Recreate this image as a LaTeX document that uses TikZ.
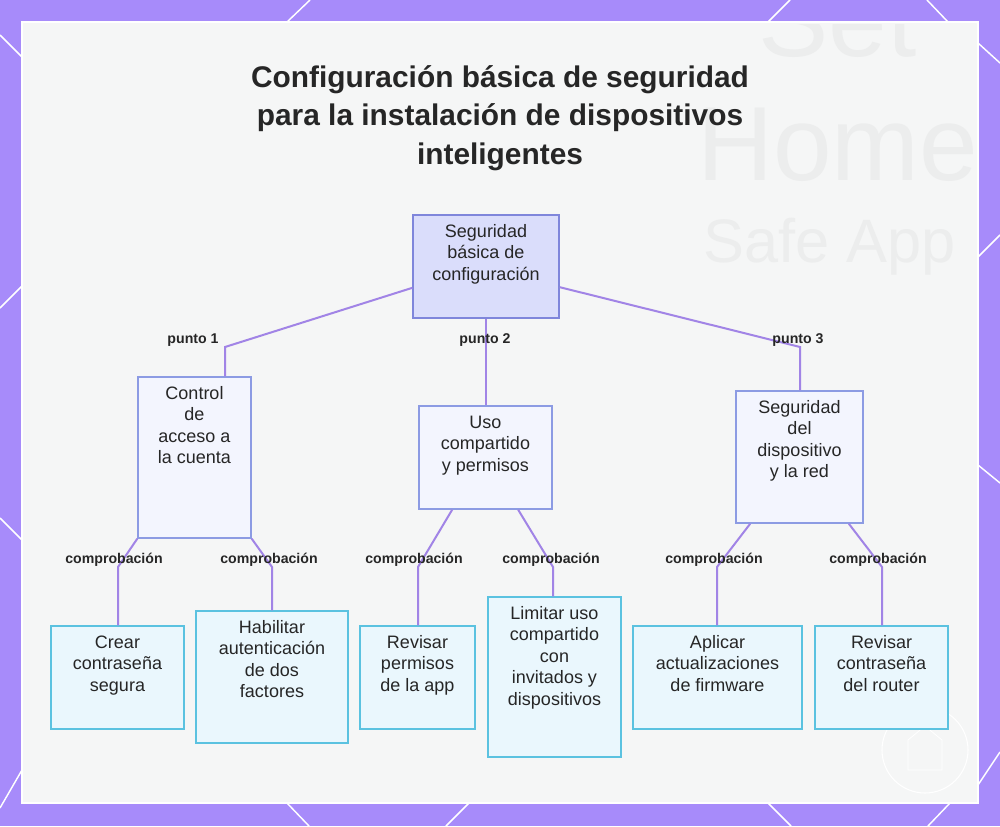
\documentclass[tikz,border=0pt]{standalone}
\usepackage{fontspec}
\setmainfont{Liberation Sans}
\usepackage{tikz}
\usetikzlibrary{positioning}
\usepackage{xcolor}

\definecolor{frame}{HTML}{A78BFA}
\definecolor{panel}{HTML}{F5F6F6}
\definecolor{ghost}{HTML}{ECEDED}
\definecolor{ink}{HTML}{262626}
\definecolor{rootfill}{HTML}{DADDFB}
\definecolor{rootline}{HTML}{7F86DB}
\definecolor{topicfill}{HTML}{F3F5FE}
\definecolor{topicline}{HTML}{8C9BE3}
\definecolor{leaffill}{HTML}{EAF7FD}
\definecolor{leafline}{HTML}{5BC2E0}
\definecolor{linkcol}{HTML}{A184E6}

\newdimen\px \px=0.75pt
\newcommand{\boxtxt}[3]{\parbox[c][#2\px][t]{#1\px}{\centering\rule{0pt}{16.5pt}#3}}

\begin{document}
\begin{tikzpicture}[x=0.75pt,y=-0.75pt,
  rootbox/.style={draw=rootline,fill=rootfill,line width=1.1pt,inner sep=0pt,text=ink,font=\fontsize{13.5}{16.2}\selectfont},
  topicbox/.style={draw=topicline,fill=topicfill,line width=1.1pt,inner sep=0pt,text=ink,font=\fontsize{13.5}{16.2}\selectfont},
  leafbox/.style={draw=leafline,fill=leaffill,line width=1.1pt,inner sep=0pt,text=ink,font=\fontsize{13.5}{16.2}\selectfont},
  link/.style={draw=linkcol,line width=1.5pt},
  tag/.style={text=ink,inner sep=1pt,font=\fontsize{10.6}{12}\selectfont\bfseries}]
\useasboundingbox (0,0) rectangle (1000,826);
\fill[frame] (0,0) rectangle (1000,826);
\draw[white,line width=1.1pt] (0,35) -- (23,58) (287,22) -- (310,0) (768,22) -- (790,0) (927,0) -- (948,22)
  (0,308) -- (22,286) (0,518) -- (22,540) (0,808) -- (22,770)
  (978,43) -- (1000,63) (978,257) -- (1000,235) (978,465) -- (1000,483) (978,785) -- (1000,752)
  (287,803) -- (309,826) (469,803) -- (446,826) (768,803) -- (791,826) (950,803) -- (928,826);
\draw[white,fill=panel,line width=1.5pt] (22,22) rectangle (978,803);
\begin{scope}
\clip (24,24) rectangle (976,801);
\node[ghost,anchor=base west,inner sep=0pt,font=\fontsize{79}{80}\selectfont] (bgset) at (758,56) {Set};
\node[ghost,anchor=base west,inner sep=0pt,font=\fontsize{79}{80}\selectfont] (bghome) at (697,180) {Home};
\node[ghost,anchor=base west,inner sep=0pt,font=\fontsize{46}{48}\selectfont] (bgapp) at (703,262) {Safe App};
\draw[white,line width=0.8pt] (925,750) circle (43);
\draw[white,line width=0.6pt] (908,770) -- (908,740) -- (925,726) -- (942,740) -- (942,770) -- cycle;
\end{scope}

\node[text=ink,align=center,font=\fontsize{22.4}{29}\selectfont\bfseries] (title) at (500,118)
  {Configuración básica de seguridad\\para la instalación de dispositivos\\inteligentes};

\node[rootbox] (root) at (486,266.5) {\boxtxt{146}{103}{Seguridad\\básica de\\configuración}};

\node[topicbox] (acc) at (194.5,457.5) {\boxtxt{113}{161}{Control\\de\\acceso a\\la cuenta}};
\node[topicbox] (uso) at (485.5,457.5) {\boxtxt{133}{103}{Uso\\compartido\\y permisos}};
\node[topicbox] (red) at (799.5,457) {\boxtxt{127}{132}{Seguridad\\del\\dispositivo\\y la red}};

\node[leafbox] (pass) at (117.5,677.5) {\boxtxt{133}{103}{Crear\\contraseña\\segura}};
\node[leafbox] (twofa) at (272,677) {\boxtxt{152}{132}{Habilitar\\autenticación\\de dos\\factores}};
\node[leafbox] (perm) at (417.5,677.5) {\boxtxt{115}{103}{Revisar\\permisos\\de la app}};
\node[leafbox] (guest) at (554.5,677) {\boxtxt{133}{160}{Limitar uso\\compartido\\con\\invitados y\\dispositivos}};
\node[leafbox] (firm) at (717.5,677.5) {\boxtxt{169}{103}{Aplicar\\actualizaciones\\de firmware}};
\node[leafbox] (router) at (881.5,677.5) {\boxtxt{133}{103}{Revisar\\contraseña\\del router}};

\coordinate (b1) at (225,347);
\coordinate (b3) at (800,347);
\coordinate (c1) at (118,567);
\coordinate (c2) at (272,567);
\coordinate (c3) at (418,567);
\coordinate (c4) at (553,567);
\coordinate (c5) at (717,567);
\coordinate (c6) at (882,567);

\draw[link] ([yshift=-16pt]root.west) -- (b1) -- (b1 |- acc.north);
\draw[link] (root.south) -- (root.south |- uso.north);
\draw[link] ([yshift=-15.5pt]root.east) -- (b3) -- (b3 |- red.north);

\draw[link] (acc.south west) -- (c1) -- (c1 |- pass.north);
\draw[link] (acc.south east) -- (c2) -- (c2 |- twofa.north);
\draw[link] ([xshift=-25pt]uso.south) -- (c3) -- (c3 |- perm.north);
\draw[link] ([xshift=24.5pt]uso.south) -- (c4) -- (c4 |- guest.north);
\draw[link] ([xshift=-37pt]red.south) -- (c5) -- (c5 |- firm.north);
\draw[link] ([xshift=37pt]red.south) -- (c6) -- (c6 |- router.north);

\node[tag] (t1) at (193,340) {punto 1};
\node[tag] (t2) at (485,340) {punto 2};
\node[tag] (t3) at (798,340) {punto 3};
\node[tag] (k1) at (114,560) {comprobación};
\node[tag] (k2) at (269,560) {comprobación};
\node[tag] (k3) at (414,560) {comprobación};
\node[tag] (k4) at (551,560) {comprobación};
\node[tag] (k5) at (714,560) {comprobación};
\node[tag] (k6) at (878,560) {comprobación};
\end{tikzpicture}
\end{document}
